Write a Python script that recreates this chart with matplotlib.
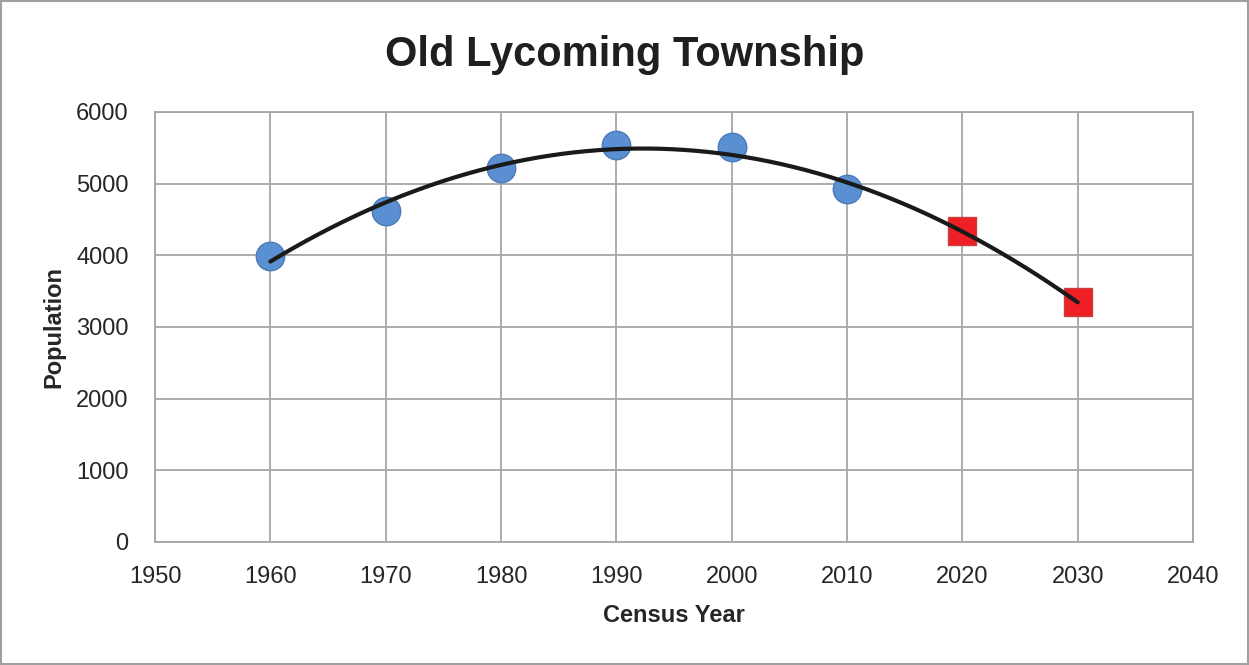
import numpy as np
import matplotlib
matplotlib.use("Agg")
import matplotlib.pyplot as plt
from matplotlib.patches import Rectangle

plt.rcParams['font.family'] = ['Liberation Sans', 'DejaVu Sans']

census_years = [1960, 1970, 1980, 1990, 2000, 2010]
census_pop = [3990, 4620, 5220, 5535, 5512, 4930]
proj_years = [2020, 2030]
proj_pop = [4335, 3345]
x_ticks = [1950, 1960, 1970, 1980, 1990, 2000, 2010, 2020, 2030, 2040]
y_ticks = [0, 1000, 2000, 3000, 4000, 5000, 6000]

fig = plt.figure(figsize=(12.49, 6.65), dpi=100)
fig.patches.append(Rectangle((0.0008, 0.0015), 0.9984, 0.997, transform=fig.transFigure,
                             fill=False, edgecolor='#a0a0a0', linewidth=1.5))
ax = fig.add_axes([0.1241, 0.185, 0.8311, 0.6466])

all_years = census_years + proj_years
all_pop = census_pop + proj_pop
coef = np.polyfit(all_years, all_pop, 2)
xs = np.linspace(1960, 2030, 200)
ax.plot(xs, np.polyval(coef, xs), color='#1a1a1a', lw=3.0, zorder=4, solid_capstyle='round')

ax.plot(census_years, census_pop, 'o', ms=20.5, mfc='#5a8fd1', mec='#4a7ab8', mew=1, zorder=3, ls='none')
ax.plot(proj_years, proj_pop, 's', ms=20, mfc='#ee2025', mec='#c84040', mew=1, zorder=3, ls='none')

ax.set_xlim(1950, 2040)
ax.set_ylim(0, 6000)
ax.set_xticks(x_ticks)
ax.set_yticks(y_ticks)
ax.grid(True, color='#a6a6a6', lw=1.3)
ax.set_axisbelow(True)
for s in ax.spines.values():
    s.set_color('#a6a6a6')
    s.set_linewidth(1.3)
ax.tick_params(length=0, labelsize=17, colors='#262626')
ax.tick_params(axis='y', pad=19)
ax.tick_params(axis='x', pad=17)

ax.set_xlabel('Census Year', fontsize=17, fontweight='bold', color='#262626', labelpad=12)
ax.set_ylabel('Population', fontsize=17, fontweight='bold', color='#262626', labelpad=8)
fig.text(0.5, 0.918, 'Old Lycoming Township', ha='center', va='center', fontsize=30,
         fontweight='bold', color='#1f1f1f')

fig.savefig('out.png', dpi=100)
